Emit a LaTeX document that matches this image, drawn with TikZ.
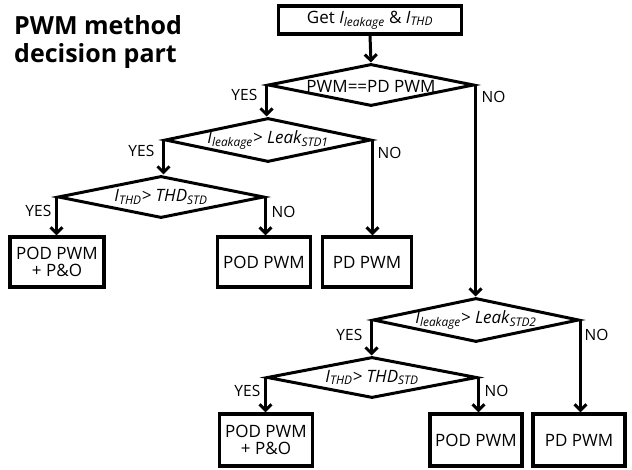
\documentclass[tikz,border=0pt]{standalone}
\usepackage{fontspec}
\setmainfont{Open Sans}
\usetikzlibrary{shapes.geometric,arrows.meta}
\begin{document}
\begin{tikzpicture}[x=1pt,y=-1pt,
  box/.style={draw,line width=3.2pt,inner sep=0pt,align=center,font=\fontsize{17}{17.5}\selectfont},
  dia/.style={draw,diamond,line width=3pt,inner sep=0pt,minimum width=206pt,minimum height=42pt},
  dtxt/.style={inner sep=0pt,font=\fontsize{17}{18}\selectfont},
  lbl/.style={inner sep=0pt,font=\fontsize{15.5}{18}\selectfont},
  ttl/.style={inner sep=0pt,font=\fontsize{25}{28}\selectfont\bfseries},
  arr/.style={line width=3pt,-{Straight Barb[length=6pt,width=12pt]}}
]
\useasboundingbox (0,0) rectangle (632,470);

% title
\node[ttl,anchor=base west] (t1) at (14,35) {PWM method};
\node[ttl,anchor=base west] (t2) at (14,63) {decision part};

% boxes
\node[box,minimum width=183pt,minimum height=28pt] (get) at (370,20)
  {Get \textit{I\textsubscript{leakage}} \& \textit{I\textsubscript{THD}}};
\node[box,minimum width=94pt,minimum height=50pt] (b1) at (57,262) {POD PWM\\+ P\&O};
\node[box,minimum width=93pt,minimum height=50pt] (b2) at (264,262) {POD PWM};
\node[box,minimum width=89pt,minimum height=50pt] (b3) at (367,262) {PD PWM};
\node[box,minimum width=93pt,minimum height=52pt] (b4) at (266,440) {POD PWM\\+ P\&O};
\node[box,minimum width=92pt,minimum height=52pt] (b5) at (476,440) {POD PWM};
\node[box,minimum width=92pt,minimum height=52pt] (b6) at (579,440) {PD PWM};

% diamonds
\node[dia] (d1) at (371,85) {};
\node[dia,minimum height=44pt] (d2) at (268,140) {};
\node[dia] (d3) at (161,197) {};
\node[dia,minimum height=44pt] (d4) at (476,320) {};
\node[dia,minimum width=210pt,minimum height=41pt] (d5) at (372,377.5) {};

\node[dtxt] (x1) at ([yshift=-1pt]d1.center) {PWM==PD PWM};
\node[dtxt] (x2) at (d2.center) {\textit{I\textsubscript{leakage}> Leak\textsubscript{STD1}}};
\node[dtxt] (x3) at (d3.center) {\textit{I\textsubscript{THD}> THD\textsubscript{STD}}};
\node[dtxt] (x4) at (d4.center) {\textit{I\textsubscript{leakage}> Leak\textsubscript{STD2}}};
\node[dtxt] (x5) at (d5.center) {\textit{I\textsubscript{THD}> THD\textsubscript{STD}}};

% connectors
\draw[arr] (get.south) -- (d1.north);
\draw[arr] (d1.west) -- (d1.west |- d2.north);
\draw[arr] (d1.east) -- (d1.east |- d4.north);
\draw[arr] (d2.west) -- (d2.west |- d3.north);
\draw[arr] (d2.east) -- (d2.east |- b3.north);
\draw[arr] (d3.west) -- (d3.west |- b1.north);
\draw[arr] (d3.east) -- (d3.east |- b2.north);
\draw[arr] (d4.west) -- (d4.west |- d5.north);
\draw[arr] (d4.east) -- (d4.east |- b6.north);
\draw[arr] (d5.west) -- (d5.west |- b4.north);
\draw[arr] (d5.east) -- (d5.east |- b5.north);

% labels
\node[lbl,anchor=east] (y1) at ([xshift=-9pt,yshift=-10pt]d1.west) {YES};
\node[lbl,anchor=west] (n1) at ([xshift=6pt,yshift=-12pt]d1.east) {NO};
\node[lbl,anchor=east] (y2) at ([xshift=-9pt,yshift=-11pt]d2.west) {YES};
\node[lbl,anchor=west] (n2) at ([xshift=5pt,yshift=-13pt]d2.east) {NO};
\node[lbl,anchor=east] (y3) at ([xshift=-5pt,yshift=-14pt]d3.west) {YES};
\node[lbl,anchor=west] (n3) at ([xshift=6pt,yshift=-15pt]d3.east) {NO};
\node[lbl,anchor=east] (y4) at ([xshift=-9pt,yshift=-15pt]d4.west) {YES};
\node[lbl,anchor=west] (n4) at ([xshift=4pt,yshift=-15pt]d4.east) {NO};
\node[lbl,anchor=east] (y5) at ([xshift=-5pt,yshift=-13pt]d5.west) {YES};
\node[lbl,anchor=west] (n5) at ([xshift=6pt,yshift=-13pt]d5.east) {NO};
\end{tikzpicture}
\end{document}
